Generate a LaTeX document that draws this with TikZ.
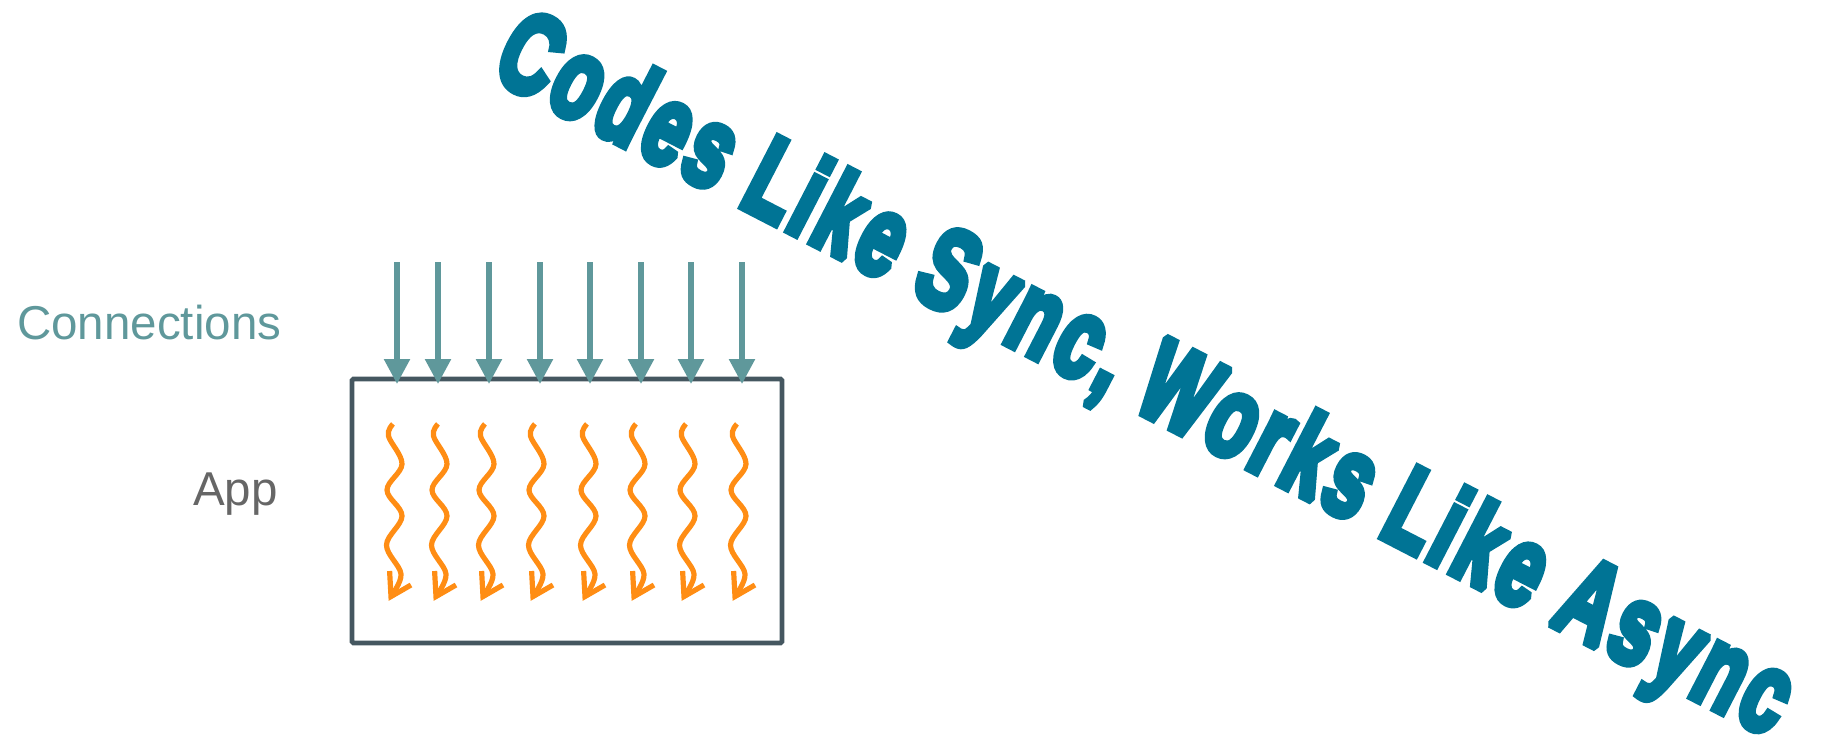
\documentclass[tikz,border=0pt]{standalone}
\usepackage{fontspec}
\setmainfont{Liberation Sans}
\newfontfamily\ttlfont{Liberation Sans}[BoldFeatures={FakeBold=7.5,LetterSpace=6}]
\usetikzlibrary{arrows.meta}
\definecolor{connc}{HTML}{5F989B}
\definecolor{boxc}{HTML}{455760}
\definecolor{appc}{HTML}{666666}
\definecolor{orng}{HTML}{FF8D14}
\definecolor{ttlc}{HTML}{007495}
\tikzset{
  conn/.style={draw=connc, line width=5.5pt, -{Triangle[length=25pt,width=25pt]}},
  squig/.style={draw=orng, line width=5.2pt},
  appbox/.style={draw=boxc, line width=4.7pt, rounded corners=1.5pt, inner sep=0pt, minimum width=430pt, minimum height=264pt},
  lbl/.style={inner sep=0pt, anchor=base west, font=\fontsize{47.5pt}{50pt}\selectfont},
  ttl/.style={inner sep=0pt, anchor=base west, text=ttlc}
}
\begin{document}
\begin{tikzpicture}[x=1pt,y=-1pt]
\useasboundingbox (0,0) rectangle (1822,740);
% box
\node[appbox] (app) at (567,511) {};
% labels
\node[lbl, text=connc] (connlbl) at (17,339) {Connections};
\node[lbl, text=appc] (applbl) at (193,505) {App};
% connections arrows
\foreach \i/\x in {1/397,2/438,3/489,4/540,5/590,6/641,7/691,8/742}{
  \coordinate (t\i) at (\x,262);
  \coordinate (h\i) at (\x,384);
  \draw[conn] (t\i) -- (h\i);
}
% squiggles
\foreach \x in {393,438,485,535,587,636,686,737}{
  \draw[squig, shift={(\x,424)}] plot[smooth, tension=0.6] coordinates {(0,0) (-4.5,12) (9,40) (-6,66) (9,92) (-6.5,121) (8,150) (-2,172)};
  \draw[squig, line join=miter, shift={(\x,424)}] (-3.4,147) -- (-2,172.5) -- (18,161);
}
% title
\begin{scope}[line join=miter, miter limit=1.6]
\node[ttl, rotate=-27.3] (title) at (489,76)
  {\resizebox{1440pt}{82pt}{\ttlfont\bfseries Codes Like Sync, Works Like Async}};
\end{scope}
\end{tikzpicture}
\end{document}
